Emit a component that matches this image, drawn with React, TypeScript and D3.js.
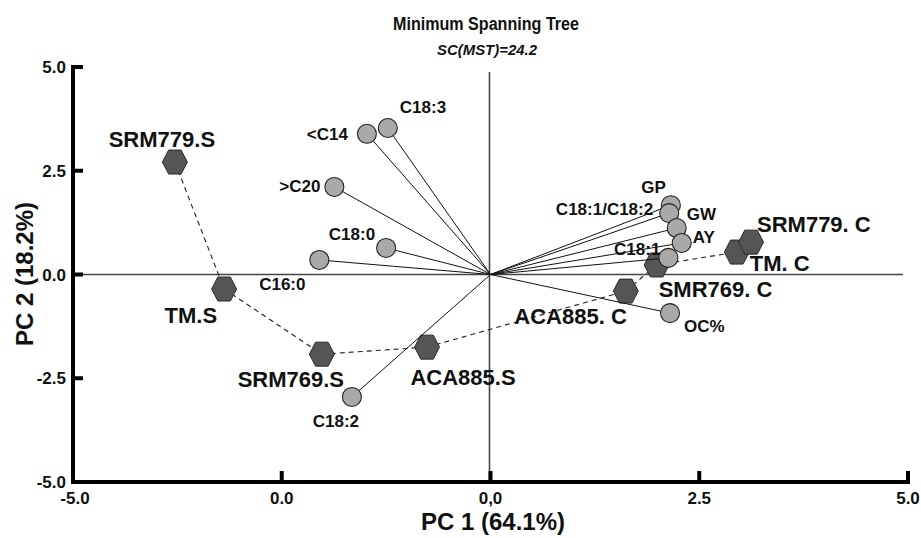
import React from 'react';
import * as d3 from 'd3';

const owidth = 921;
const oheight = 538;

// plot frame (pixel box of the axes)
const left = 73;
const right = 908;
const top = 67;
const bottom = 482;

const xScale = d3.scaleLinear().domain([-5, 5]).range([left, right]);
const yScale = d3.scaleLinear().domain([-5, 5]).range([bottom, top]);

// axis ticks and the labels as printed in the figure
const xTicks = [-5, -2.5, 0, 2.5, 5];
const xTickLabels = ['-5.0', '0.0', '0,0', '2.5', '5.0'];
const yTicks = [5, 2.5, 0, -2.5, -5];
const yTickLabels = ['5.0', '2.5', '0.0', '-2.5', '-5.0'];

// treatments (hexagons)
const groupNames = ['SRM779.S', 'TM.S', 'SRM769.S', 'ACA885.S', 'ACA885. C', 'SMR769. C', 'TM. C', 'SRM779. C'];
const groupPC1 = [-3.78, -3.19, -2.02, -0.76, 1.62, 1.99, 2.95, 3.12];
const groupPC2 = [2.71, -0.35, -1.92, -1.75, -0.40, 0.23, 0.54, 0.78];

// variables (circles + vectors)
const varNames = ['C18:3', '<C14', '>C20', 'C18:0', 'C16:0', 'C18:2', 'OC%', 'GP', 'C18:1/C18:2', 'GW', 'AY', 'C18:1'];
const varPC1 = [-1.23, -1.48, -1.87, -1.25, -2.05, -1.66, 2.15, 2.16, 2.14, 2.23, 2.29, 2.13];
const varPC2 = [3.53, 3.39, 2.11, 0.64, 0.35, -2.95, -0.93, 1.67, 1.48, 1.12, 0.76, 0.40];

// minimum spanning tree edges (by treatment name)
const mstEdges = [
  ['SRM779.S', 'TM.S'],
  ['TM.S', 'SRM769.S'],
  ['SRM769.S', 'ACA885.S'],
  ['ACA885.S', 'ACA885. C'],
  ['ACA885. C', 'SMR769. C'],
  ['SMR769. C', 'TM. C'],
  ['TM. C', 'SRM779. C'],
];

// label placement relative to the mark, in px
const groupLabelPos = {
  'SRM779.S': [-13, -15, 'middle'],
  'TM.S': [-7, 34, 'end'],
  'SRM769.S': [-31, 33, 'middle'],
  'ACA885.S': [36, 38, 'middle'],
  'ACA885. C': [1, 33, 'end'],
  'SMR769. C': [2, 32, 'start'],
  'TM. C': [13, 19, 'start'],
  'SRM779. C': [6, -10, 'start'],
};
const varLabelPos = {
  'C18:3': [12, -15, 'start'],
  '<C14': [-19, 6, 'end'],
  '>C20': [-14, 5, 'end'],
  'C18:0': [-11, -8, 'end'],
  'C16:0': [-37, 30, 'middle'],
  'C18:2': [-16, 30, 'middle'],
  'OC%': [14, 19, 'start'],
  'GP': [-5, -12, 'end'],
  'C18:1/C18:2': [-16, 2, 'end'],
  'GW': [10, -8, 'start'],
  'AY': [11, 0, 'start'],
  'C18:1': [-8, -3, 'end'],
};

const font = 'Liberation Sans, Arial, Helvetica, sans-serif';

function hexPath(cx, cy, rx, ry) {
  const pts = d3.range(6).map(i => {
    const a = (Math.PI / 3) * i;
    return [cx + rx * Math.cos(a), cy + ry * Math.sin(a) / Math.sin(Math.PI / 3)];
  });
  return d3.line()(pts) + 'Z';
}

function App() {
  const groups = groupNames.map((name, i) => ({ name, x: groupPC1[i], y: groupPC2[i] }));
  const vars = varNames.map((name, i) => ({ name, x: varPC1[i], y: varPC2[i] }));
  const byName = Object.fromEntries(groups.map(g => [g.name, g]));
  const x0 = xScale(0);
  const y0 = yScale(0);

  return (
    <div style={{ position: 'absolute', left: 0, top: 0 }}>
      <svg width={owidth} height={oheight} viewBox={`0 0 ${owidth} ${oheight}`} style={{ display: 'block', background: '#fff' }}>
        <g fontFamily={font} fontWeight="bold" fill="#111">
          <text x={486} y={30} fontSize={18} textAnchor="middle" textLength={186} lengthAdjust="spacingAndGlyphs">Minimum Spanning Tree</text>
          <text x={487} y={55} fontSize={14} fontStyle="italic" textAnchor="middle" textLength={100} lengthAdjust="spacingAndGlyphs">SC(MST)=24.2</text>
        </g>

        {/* origin cross */}
        <line x1={left} x2={903} y1={y0} y2={y0} stroke="#444" strokeWidth={1.6} />
        <line x1={x0 - 1} x2={x0 - 1} y1={72} y2={bottom} stroke="#444" strokeWidth={1.6} />

        {/* axes */}
        <g stroke="#000" strokeWidth={4} fill="none">
          <line x1={left} x2={left} y1={top - 2} y2={bottom + 2} />
          <line x1={left - 2} x2={right + 2} y1={bottom} y2={bottom} />
          {yTicks.map(t => (
            <line key={'yt' + t} x1={left} x2={left + 10} y1={yScale(t)} y2={yScale(t)} />
          ))}
          {xTicks.slice(1).map(t => (
            <line key={'xt' + t} x1={xScale(t)} x2={xScale(t)} y1={bottom} y2={bottom - 11} />
          ))}
        </g>
        <g fontFamily={font} fontWeight="bold" fontSize={17} fill="#111">
          {yTicks.map((t, i) => (
            <text key={'yl' + t} x={left - 7} y={yScale(t) + 6} textAnchor="end">{yTickLabels[i]}</text>
          ))}
          {xTicks.map((t, i) => (
            <text key={'xl' + t} x={xScale(t) + (i === 0 ? 2 : 0)} y={504} textAnchor="middle">{xTickLabels[i]}</text>
          ))}
        </g>
        <g fontFamily={font} fontWeight="bold" fontSize={24} fill="#111">
          <text x={493} y={530} textAnchor="middle">PC 1 (64.1%)</text>
          <text transform={`translate(33,274) rotate(-90)`} textAnchor="middle">PC 2 (18.2%)</text>
        </g>

        {/* minimum spanning tree */}
        <g stroke="#222" strokeWidth={1.1} strokeDasharray="5,4" fill="none">
          {mstEdges.map(([a, b]) => (
            <line key={a + b} x1={xScale(byName[a].x)} y1={yScale(byName[a].y)} x2={xScale(byName[b].x)} y2={yScale(byName[b].y)} />
          ))}
        </g>

        {/* treatments */}
        <g fill="#555" stroke="#2a2a2a" strokeWidth={1}>
          {groups.map(g => (
            <path key={g.name} d={hexPath(xScale(g.x), yScale(g.y), 12.5, 12)} />
          ))}
        </g>

        {/* variable vectors */}
        <g stroke="#111" strokeWidth={1}>
          {vars.map(v => (
            <line key={v.name} x1={x0} y1={y0} x2={xScale(v.x)} y2={yScale(v.y)} />
          ))}
        </g>
        <g fill="#a9a9a9" stroke="#222" strokeWidth={1.1}>
          {vars.map(v => (
            <circle key={v.name} cx={xScale(v.x)} cy={yScale(v.y)} r={9.5} />
          ))}
        </g>

        {/* labels */}
        <g fontFamily={font} fontWeight="bold" fontSize={17} fill="#111">
          {vars.map(v => {
            const [dx, dy, anchor] = varLabelPos[v.name];
            return (
              <text key={v.name} x={xScale(v.x) + dx} y={yScale(v.y) + dy} textAnchor={anchor}>{v.name}</text>
            );
          })}
        </g>
        <g fontFamily={font} fontWeight="bold" fontSize={22} fill="#111">
          {groups.map(g => {
            const [dx, dy, anchor] = groupLabelPos[g.name];
            return (
              <text key={g.name} x={xScale(g.x) + dx} y={yScale(g.y) + dy} textAnchor={anchor}>{g.name}</text>
            );
          })}
        </g>
      </svg>
    </div>
  );
}

export default App;
